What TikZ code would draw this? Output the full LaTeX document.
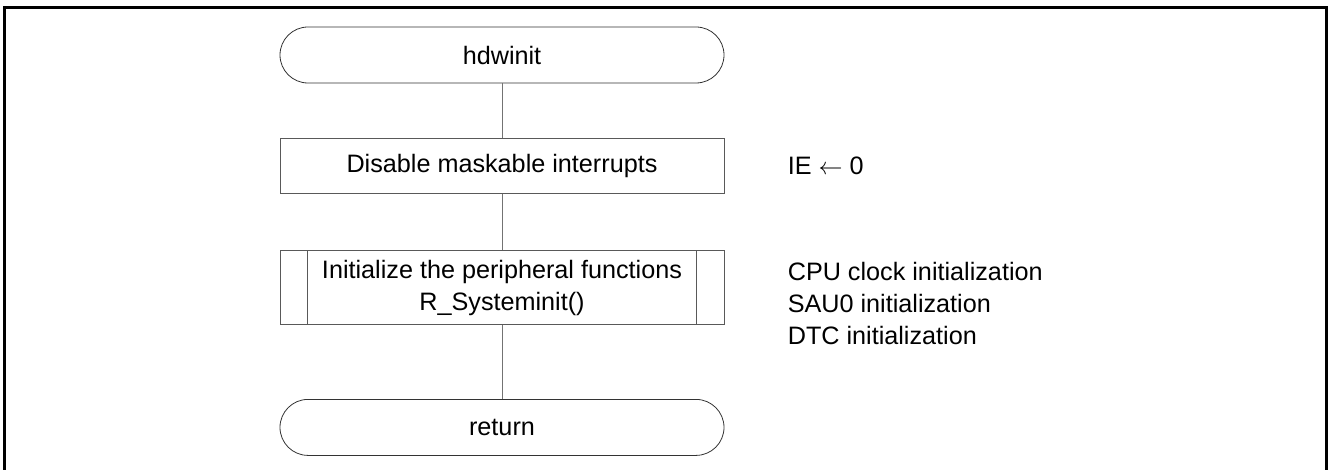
\documentclass[tikz,border=0pt]{standalone}
\usepackage{fontspec}
\setmainfont{Liberation Sans}
\usetikzlibrary{positioning}
\tikzset{term node/.style={draw=black!80,rounded corners=14pt,minimum width=222pt,minimum height=28pt,inner sep=0pt,font=\fontsize{12.6}{16}\selectfont},
proc node/.style={draw=black!65,minimum width=222pt,minimum height=27.5pt,inner sep=0pt,align=center,font=\fontsize{12.6}{16}\selectfont},
sub node/.style={proc node,minimum height=37pt},
note node/.style={inner sep=0pt,align=left,font=\fontsize{12.6}{16}\selectfont},
flow line/.style={draw=black!55,line width=.5pt},}

\begin{document}
\begin{tikzpicture}
    \useasboundingbox (0,0) rectangle (664pt,-235pt);
    % frame, open at the bottom
    \draw[line width=1.5pt] (2.25pt,-240pt) -- (2.25pt,-3.9pt) -- (663.3pt,-3.9pt) -- (663.3pt,-240pt);

    \node[term node] (1) at (251pt,-27.5pt) {hdwinit};
    \node[proc node] (2) [below = 27.5pt of 1] {Disable maskable interrupts};
    \node[sub node] (3) [below = 28pt of 2] {Initialize the peripheral functions\\R\_Systeminit()};
    \node[term node] (4) [below = 37pt of 3] {return};

    \node[note node] (5) [right = 31.5pt of 2] {IE $\leftarrow$ 0};
    \node[note node] (6) [right = 31.5pt of 3, yshift=-8pt] {CPU clock initialization\\SAU0 initialization\\DTC initialization};

    \draw[black!65] ([xshift=14pt]3.north west) -- ([xshift=14pt]3.south west);
    \draw[black!65] ([xshift=-14pt]3.north east) -- ([xshift=-14pt]3.south east);

    \path[flow line]
    (1) edge (2)
    (2) edge (3)
    (3) edge (4)
    ;
\end{tikzpicture}
\end{document}
